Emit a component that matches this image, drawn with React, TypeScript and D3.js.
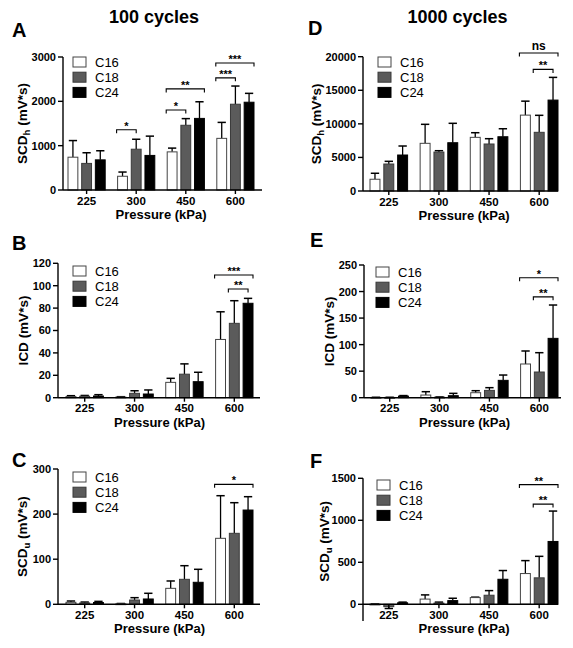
import React from "react";
import * as d3 from "d3";

// ---------- data ----------
const pressures = ["225", "300", "450", "600"];
const seriesNames = ["C16", "C18", "C24"];
const columnTitles = ["100 cycles", "1000 cycles"];

// rows = C16, C18, C24 ; columns = 225, 300, 450, 600 kPa
const A_mean = [[740, 310, 860, 1165], [600, 920, 1460, 1935], [680, 780, 1615, 1980]];
const A_err = [[375, 95, 85, 360], [240, 225, 150, 410], [205, 435, 375, 200]];
const B_mean = [[1.0, 0.6, 13.7, 52], [1.3, 3.9, 21, 66.4], [1.5, 3.3, 14.3, 84.3]];
const B_err = [[0.8, 0.3, 3.6, 24.7], [0.7, 2.3, 9.2, 20.2], [1.2, 3.6, 8.4, 4.4]];
const C_mean = [[4.4, 1, 35.4, 146.3], [3, 9.5, 55.4, 157.4], [4, 11.8, 48.8, 209]];
const C_err = [[2.9, 0.8, 16.3, 94.5], [2, 5.2, 30.2, 67.9], [2.5, 12.6, 28.8, 29.6]];
const D_mean = [[1750, 7100, 7990, 11300], [4020, 5800, 7000, 8740], [5360, 7190, 8080, 13540]];
const D_err = [[890, 2830, 690, 2080], [400, 200, 790, 2530], [1340, 2890, 1190, 3380]];
const E_mean = [[0.5, 5, 9.4, 63.5], [0.5, 1, 13.8, 48.4], [3, 3.8, 32.7, 111.8]];
const E_err = [[0.3, 6.3, 3.8, 24.5], [0.3, 0.5, 5.1, 36.4], [1, 4.4, 10, 62.8]];
const F_mean = [[2, 62, 80, 366], [-28, 14, 108, 315], [18, 44, 298, 748]];
const F_err = [[2, 50, 5, 154], [22, 12, 55, 256], [8, 28, 104, 362]];

const A_ticks = [0, 1000, 2000, 3000];
const B_ticks = [0, 20, 40, 60, 80, 100, 120];
const C_ticks = [0, 100, 200, 300];
const D_ticks = [0, 5000, 10000, 15000, 20000];
const E_ticks = [0, 50, 100, 150, 200, 250];
const F_ticks = [0, 500, 1000, 1500];

// significance brackets: [group, fromSeries, toSeries, value, label]
const A_sig = [[1, 0, 1, 1360, "*"], [2, 0, 1, 1805, "*"], [2, 0, 2, 2280, "**"], [3, 0, 1, 2530, "***"], [3, 0, 2, 2865, "***"]];
const B_sig = [[3, 0, 2, 109.6, "***"], [3, 1, 2, 97, "**"]];
const C_sig = [[3, 0, 2, 266, "*"]];
const D_sig = [[3, 0, 2, 20540, "ns"], [3, 1, 2, 18110, "**"]];
const E_sig = [[3, 0, 2, 226, "*"], [3, 1, 2, 190, "**"]];
const F_sig = [[3, 0, 2, 1425, "**"], [3, 1, 2, 1193, "**"]];

// ---------- layout / style ----------
const FONT = "Arial, 'Liberation Sans', Helvetica, sans-serif";
const fills = ["#ffffff", "#5b5b5b", "#000000"];
const strokes = ["#444444", "#3a3a3a", "#000000"];

type Panel = {
  letter: string; yName: string; ySub: string;
  mean: number[][]; err: number[][]; ticks: number[]; sig: any[];
  yMax: number; yMin: number;
  axisX: number; axisR: number; bar0: number; bar1: number; yTop: number; yZero: number;
  titleX: number; letterX: number; letterY: number; legX: number; legY: number;
};

const panels: Panel[] = [
  { letter: "A", yName: "SCD", ySub: "h", mean: A_mean, err: A_err, ticks: A_ticks, sig: A_sig, yMax: 3000, yMin: 0,
    axisX: 63, axisR: 262, bar0: 68, bar1: 254, yTop: 57, yZero: 190, titleX: 22, letterX: 12, letterY: 37, legX: 73, legY: 57 },
  { letter: "B", yName: "ICD", ySub: "", mean: B_mean, err: B_err, ticks: B_ticks, sig: B_sig, yMax: 120, yMin: 0,
    axisX: 58, axisR: 260, bar0: 66, bar1: 253, yTop: 263.3, yZero: 397.7, titleX: 23, letterX: 12, letterY: 250, legX: 73, legY: 266 },
  { letter: "C", yName: "SCD", ySub: "u", mean: C_mean, err: C_err, ticks: C_ticks, sig: C_sig, yMax: 300, yMin: 0,
    axisX: 58, axisR: 260, bar0: 66, bar1: 253, yTop: 469, yZero: 604.3, titleX: 22.5, letterX: 12, letterY: 467, legX: 73, legY: 472 },
  { letter: "D", yName: "SCD", ySub: "h", mean: D_mean, err: D_err, ticks: D_ticks, sig: D_sig, yMax: 20000, yMin: 0,
    axisX: 363, axisR: 558, bar0: 370, bar1: 558, yTop: 56.7, yZero: 191, titleX: 316.5, letterX: 308, letterY: 35, legX: 378, legY: 57 },
  { letter: "E", yName: "ICD", ySub: "", mean: E_mean, err: E_err, ticks: E_ticks, sig: E_sig, yMax: 250, yMin: 0,
    axisX: 364, axisR: 561, bar0: 371, bar1: 558, yTop: 265, yZero: 397.7, titleX: 329, letterX: 310, letterY: 247, legX: 376, legY: 267 },
  { letter: "F", yName: "SCD", ySub: "u", mean: F_mean, err: F_err, ticks: F_ticks, sig: F_sig, yMax: 1500, yMin: -200,
    axisX: 363, axisR: 558, bar0: 370, bar1: 558, yTop: 478.3, yZero: 604.3, titleX: 324, letterX: 310, letterY: 468, legX: 377, legY: 480 },
];

function PanelChart({ p }: { p: Panel }) {
  const y = d3.scaleLinear().domain([0, p.yMax]).range([p.yZero, p.yTop]);
  const xg = d3.scaleBand<string>().domain(pressures).range([p.bar0, p.bar1]).paddingInner(0.25).paddingOuter(0);
  const xs = d3.scaleBand<string>().domain(seriesNames).range([0, xg.bandwidth()]).paddingInner(0.28).paddingOuter(0);
  const bw = xs.bandwidth();
  const axisBottom = y(Math.min(0, p.yMin));
  const midY = (p.yTop + p.yZero) / 2;
  const barX = (g: number, s: number) => (xg(pressures[g]) as number) + (xs(seriesNames[s]) as number);

  return (
    <g>
      <text x={p.letterX} y={p.letterY} fontFamily={FONT} fontWeight="bold" fontSize={20}>{p.letter}</text>
      {/* bars */}
      {seriesNames.map((s, si) =>
        pressures.map((g, gi) => {
          const v = p.mean[si][gi];
          const e = p.err[si][gi];
          const x0 = barX(gi, si);
          const top = y(Math.max(0, v));
          const bot = y(Math.min(0, v));
          const cx = x0 + bw / 2;
          const ey = y(v >= 0 ? v + e : v - e);
          const vy = y(v);
          return (
            <g key={s + g}>
              <line x1={cx} x2={cx} y1={vy} y2={ey} stroke="#000" strokeWidth={1.3} />
              <line x1={cx - bw * 0.42} x2={cx + bw * 0.42} y1={ey} y2={ey} stroke="#000" strokeWidth={1.5} />
              <rect x={x0} y={top} width={bw} height={Math.max(0.8, bot - top)} fill={fills[si]} stroke={strokes[si]} strokeWidth={1} />
            </g>
          );
        })
      )}
      {/* axes */}
      <line x1={p.axisX} x2={p.axisX} y1={p.yTop} y2={axisBottom} stroke="#000" strokeWidth={1.4} />
      <line x1={p.axisX} x2={p.axisR} y1={p.yZero} y2={p.yZero} stroke="#000" strokeWidth={1.4} />
      {p.ticks.map((t) => (
        <g key={t}>
          <line x1={p.axisX - 5} x2={p.axisX} y1={y(t)} y2={y(t)} stroke="#000" strokeWidth={1.4} />
          <text x={p.axisX - 7} y={y(t)} dy="0.36em" textAnchor="end" fontFamily={FONT} fontWeight="bold" fontSize={11}>{t}</text>
        </g>
      ))}
      {pressures.map((g) => {
        const cx = (xg(g) as number) + xg.bandwidth() / 2;
        return (
          <g key={g}>
            <line x1={cx} x2={cx} y1={p.yZero} y2={p.yZero + 4} stroke="#000" strokeWidth={1.4} />
            <text x={cx} y={p.yZero + 14.5} textAnchor="middle" fontFamily={FONT} fontWeight="bold" fontSize={11.5}>{g}</text>
          </g>
        );
      })}
      <text x={(p.bar0 + p.bar1) / 2} y={p.yZero + 29} textAnchor="middle" fontFamily={FONT} fontWeight="bold" fontSize={13}>Pressure (kPa)</text>
      <text transform={`translate(${p.titleX + 4.5},${midY}) rotate(-90)`} textAnchor="middle" fontFamily={FONT} fontWeight="bold" fontSize={13.5}>
        {p.yName}
        {p.ySub ? <tspan dy={3} fontSize={9.5}>{p.ySub}</tspan> : null}
        <tspan dy={p.ySub ? -3 : 0}> (mV*s)</tspan>
      </text>
      {/* legend */}
      {seriesNames.map((s, si) => (
        <g key={s}>
          <rect x={p.legX} y={p.legY + si * 15.2} width={13} height={10} fill={fills[si]} stroke={strokes[si]} strokeWidth={1} />
          <text x={p.legX + 22} y={p.legY + si * 15.2 + 10} fontFamily={FONT} fontSize={13}>{s}</text>
        </g>
      ))}
      {/* significance */}
      {p.sig.map((b, i) => {
        const [g, f, t, v, label] = b;
        const x1 = barX(g, f) - 1;
        const x2 = f === 0 && t === 2 ? barX(g, t) + bw : barX(g, t) + bw / 2;
        const yy = y(v);
        return (
          <g key={i}>
            <path d={`M${x1},${yy + 3.5}V${yy}H${x2}V${yy + 3.5}`} fill="none" stroke="#000" strokeWidth={1.1} />
            <text x={(x1 + x2) / 2} y={yy - (label === "ns" ? 3 : 0)} textAnchor="middle" fontFamily={FONT} fontWeight="bold" fontSize={label === "ns" ? 12 : 11}>{label}</text>
          </g>
        );
      })}
    </g>
  );
}

export default function App() {
  return (
    <svg width={573} height={648} style={{ position: "absolute", left: 0, top: 0, background: "#fff" }}>
      <rect width={573} height={648} fill="#fff" />
      <text x={154} y={23} textAnchor="middle" fontFamily={FONT} fontWeight="bold" fontSize={18}>{columnTitles[0]}</text>
      <text x={457.5} y={23} textAnchor="middle" fontFamily={FONT} fontWeight="bold" fontSize={18}>{columnTitles[1]}</text>
      {panels.map((p) => <PanelChart key={p.letter} p={p} />)}
    </svg>
  );
}
